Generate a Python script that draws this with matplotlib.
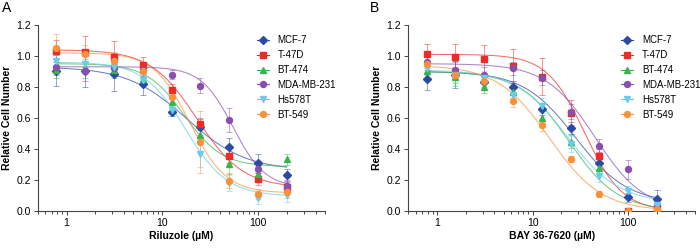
import numpy as np
import matplotlib; matplotlib.use('Agg')
import matplotlib.pyplot as plt
from matplotlib.ticker import LogLocator, FixedLocator, FormatStrFormatter, NullFormatter

plt.rcParams['font.family'] = ['Liberation Sans', 'DejaVu Sans']

conc = [0.78125, 1.5625, 3.125, 6.25, 12.5, 25, 50, 100, 200]
lines = ['MCF-7', 'T-47D', 'BT-474', 'MDA-MB-231', 'Hs578T', 'BT-549']
colors = ['#2b4aa6', '#ee2b24', '#38b54a', '#8a4eae', '#66cdee', '#f7923a']
markers = ['D', 's', '^', 'o', 'v', 'o']

# panel A: riluzole
rilu_mean = {
    'MCF-7':      [0.905, 0.90, 0.885, 0.82, 0.64, 0.54, 0.415, 0.307, 0.232],
    'T-47D':      [1.03, 1.028, 0.995, 0.94, 0.78, 0.561, 0.357, 0.206, 0.157],
    'BT-474':     [0.91, 0.92, 0.91, 0.85, 0.70, 0.49, 0.30, 0.238, 0.333],
    'MDA-MB-231': [0.93, 0.90, 0.92, 0.91, 0.88, 0.808, 0.587, 0.27, 0.16],
    'Hs578T':     [0.97, 0.95, 0.93, 0.845, 0.65, 0.366, 0.18, 0.085, 0.10],
    'BT-549':     [1.05, 1.01, 0.965, 0.90, 0.737, 0.443, 0.195, 0.11, 0.125],
}
rilu_sd = {
    'MCF-7':      [0.10, 0.10, 0.11, 0.07, 0.03, 0.05, 0.055, 0.06, 0.04],
    'T-47D':      [0.07, 0.10, 0.10, 0.055, 0.04, 0.04, 0.05, 0.04, 0.03],
    'BT-474':     [0.05, 0.06, 0.05, 0.04, 0.03, 0.05, 0.06, 0.05, 0.035],
    'MDA-MB-231': [0.05, 0.06, 0.05, 0.04, 0.03, 0.05, 0.08, 0.05, 0.04],
    'Hs578T':     [0.04, 0.05, 0.05, 0.03, 0.04, 0.08, 0.05, 0.04, 0.045],
    'BT-549':     [0.09, 0.06, 0.06, 0.04, 0.04, 0.20, 0.05, 0.03, 0.04],
}
# 4PL fit: top, bottom, IC50, hill
rilu_fit = {
    'MCF-7':      [0.93, 0.26, 18, 1.4],
    'T-47D':      [1.04, 0.15, 23, 1.8],
    'BT-474':     [0.95, 0.285, 17, 2.2],
    'MDA-MB-231': [0.93, 0.15, 55, 2.6],
    'Hs578T':     [0.96, 0.095, 17.5, 2.0],
    'BT-549':     [1.02, 0.115, 19.5, 2.3],
}

# panel B: BAY 36-7620
bay_mean = {
    'MCF-7':      [0.85, 0.88, 0.83, 0.80, 0.658, 0.533, 0.307, 0.088, 0.077],
    'T-47D':      [1.01, 0.995, 0.98, 0.935, 0.866, 0.634, 0.357, 0.0, 0.01],
    'BT-474':     [0.905, 0.865, 0.80, 0.77, 0.60, 0.447, 0.275, 0.0, 0.01],
    'MDA-MB-231': [0.96, 0.91, 0.88, 0.92, 0.86, 0.64, 0.421, 0.269, 0.03],
    'Hs578T':     [0.92, 0.88, 0.86, 0.75, 0.68, 0.432, 0.226, 0.129, 0.035],
    'BT-549':     [0.948, 0.875, 0.84, 0.71, 0.555, 0.335, 0.108, 0.0, 0.01],
}
bay_sd = {
    'MCF-7':      [0.07, 0.09, 0.05, 0.04, 0.04, 0.04, 0.04, 0.03, 0.055],
    'T-47D':      [0.07, 0.08, 0.09, 0.11, 0.12, 0.08, 0.04, 0.01, 0.01],
    'BT-474':     [0.05, 0.06, 0.04, 0.04, 0.05, 0.04, 0.03, 0.01, 0.01],
    'MDA-MB-231': [0.05, 0.05, 0.05, 0.04, 0.05, 0.05, 0.04, 0.06, 0.02],
    'Hs578T':     [0.04, 0.05, 0.04, 0.04, 0.05, 0.05, 0.04, 0.03, 0.02],
    'BT-549':     [0.05, 0.05, 0.04, 0.04, 0.04, 0.02, 0.02, 0.01, 0.01],
}
bay_fit = {
    'MCF-7':      [0.90, 0.05, 28, 1.6],
    'T-47D':      [1.01, 0.0, 35, 2.2],
    'BT-474':     [0.90, 0.0, 24, 1.7],
    'MDA-MB-231': [0.95, 0.0, 45, 1.7],
    'Hs578T':     [0.91, 0.05, 23, 1.6],
    'BT-549':     [0.94, 0.0, 15, 1.6],
}

def fourpl(x, top, bot, ic50, h):
    return bot + (top - bot) / (1 + (x / ic50) ** h)

def panel(ax, means, sds, fits, xlabel, legx):
    xs = np.logspace(np.log10(0.78), np.log10(200), 200)
    for name, c, m in zip(lines, colors, markers):
        ms = 3.8 if m == 'D' else 4.3
        ax.plot(xs, fourpl(xs, *fits[name]), color=c, lw=0.75, alpha=0.7, zorder=2)
        ax.errorbar(conc, means[name], yerr=sds[name], fmt='none', ecolor=c,
                    elinewidth=0.7, capsize=2.5, capthick=0.7, alpha=0.5, zorder=3)
        ax.plot(conc, means[name], ls='none', marker=m, color=c, ms=ms, mec=c, zorder=4)
        ax.plot([], [], color=c, lw=0.8, marker=m, ms=ms, label=name)
    ax.set_xscale('log')
    ax.set_xlim(0.5, 500)
    ax.set_ylim(0, 1.2)
    ax.yaxis.set_major_locator(FixedLocator([0, 0.2, 0.4, 0.6, 0.8, 1.0, 1.2]))
    ax.yaxis.set_major_formatter(FormatStrFormatter('%.1f'))
    ax.xaxis.set_major_locator(FixedLocator([1, 10, 100]))
    ax.xaxis.set_major_formatter(FormatStrFormatter('%g'))
    ax.xaxis.set_minor_locator(LogLocator(subs=np.arange(2, 10)))
    ax.xaxis.set_minor_formatter(NullFormatter())
    for s in ['top', 'right']:
        ax.spines[s].set_visible(False)
    for s in ['left', 'bottom']:
        ax.spines[s].set_linewidth(0.8)
        ax.spines[s].set_color('#444444')
    ax.tick_params(which='both', labelsize=7.5, length=3, width=0.7, color='#444444', pad=2)
    ax.tick_params(which='minor', length=2.5)
    ax.set_ylabel('Relative Cell Number', fontsize=7.5, fontweight='bold', labelpad=3)
    ax.set_xlabel(xlabel, fontsize=7.5, fontweight='bold', labelpad=2)
    ax.legend(loc='upper left', bbox_to_anchor=(legx, 0.965), frameon=False, fontsize=7,
              handlelength=1.2, handletextpad=0.9, labelspacing=0.5, borderaxespad=0)

fig = plt.figure(figsize=(7, 2.49), dpi=100)
axA = fig.add_axes([0.054, 0.153, 0.41, 0.747])
axB = fig.add_axes([0.583, 0.153, 0.41, 0.747])
panel(axA, rilu_mean, rilu_sd, rilu_fit, 'Riluzole (\u00b5M)', 0.75)
panel(axB, bay_mean, bay_sd, bay_fit, 'BAY 36-7620 (\u00b5M)', 0.73)
fig.text(0.003, 0.995, 'A', fontsize=10, va='top', ha='left')
fig.text(0.528, 0.995, 'B', fontsize=10, va='top', ha='left')

fig.savefig('out.png', dpi=100)
